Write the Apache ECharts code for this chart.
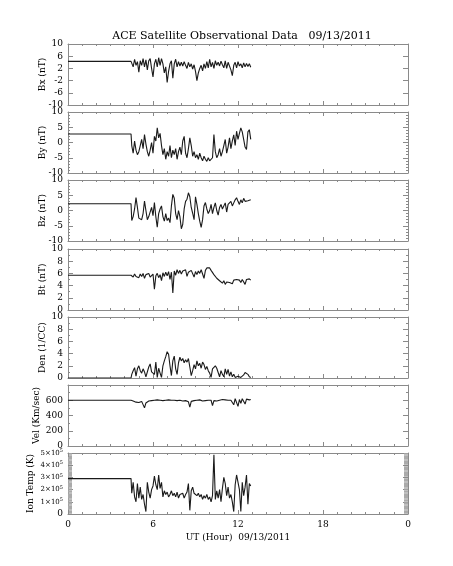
<!DOCTYPE html>
<html>
<head>
<meta charset="utf-8">
<script src="https://cdn.jsdelivr.net/npm/echarts@6/dist/echarts.min.js"></script>
<style>html,body{margin:0;padding:0;background:#fff;}#c{width:453px;height:566px;}</style>
</head>
<body>
<div id="c"></div>
<script>
// ---- data (hours 4.5 .. 12.9, every 0.1 h) ----
const startHour = 4.5;
const stepHour = 0.1;
const xTicks = [0, 6, 12, 18, 24];
const xTickLabels = ['0', '6', '12', '18', '0'];
const panelNames = ['Bx (nT)', 'By (nT)', 'Bz (nT)', 'Bt (nT)', 'Den (1/CC)', 'Vel (Km/sec)', 'Ion Temp (K)'];
const flatValues = [4.3, 2.8, 2.2, 5.7, 0, 600, 290000];

const bx = [4.5, 2.5, 5.0, 3.0, 4.2,
  0.8, 4.5, 3.0, 5.2, 2.5, 4.8, 1.5, 4.5, 5.2, 2.0,
  -0.8, 3.5, 5.0, 2.5, 5.5, 3.0, 5.2, 3.5, 0.5, 2.5,
  -2.6, 1.0, 3.5, 4.5, -1.2, 3.5, 5.0, 2.5, 4.2, 2.8,
  4.0, 2.8, 4.2, 3.0, 2.0, 4.0, 2.5, 3.5, 1.8, 3.2,
  1.0, -2.0, 0.5, 2.0, 3.0, 1.2, 3.5, 2.0, 4.2, 2.2,
  5.0, 2.5, 4.0, 2.0, 4.5, 3.0, 4.0, 2.8, 4.4, 3.2,
  2.2, 4.5, 2.0, 4.0, 3.5, 1.5, -0.4, 3.0, 4.0, 2.2,
  4.2, 2.8, 3.5, 2.2, 3.8, 2.5, 3.6, 2.6, 3.5, 2.4];
const by = [-1.0, -3.5, 0.5, -2.5, -4.0,
  -3.0, -1.0, 1.0, -2.0, 2.6, -0.5, -3.0, -4.5, -2.5, 0.0,
  -3.5, 2.0, 0.5, 4.8, 1.5, 3.0, -1.0, -4.0, -2.0, -5.5,
  -3.0, -4.5, -1.0, -5.0, -2.5, -4.0, -2.0, -5.5, -3.0, -1.5,
  -4.0, 0.5, 2.0, -3.5, -5.0, -2.0, 1.5, -1.0, -4.5, -3.0,
  -5.0, -4.0, -5.5, -3.5, -5.0, -6.0, -4.5, -5.5, -6.2, -5.0,
  -6.0, -6.5, -5.0, 2.6, -3.0, -5.0, -4.0, -2.0, -4.5, -3.0,
  -1.0, 1.0, -3.5, -1.5, 1.5, -2.0, 0.5, 2.5, -1.0, 3.7,
  1.0, 3.0, 4.8, 3.5, 1.0, -1.5, -2.3, 3.5, 4.2, 1.0];
const bz = [-3.3, -2.0, 0.5, 4.2, 1.0,
  -2.5, -2.0, -3.0, -1.0, 3.1, 0.0, -3.0, -2.0, -1.5, 1.0,
  -1.7, 2.6, -2.0, -5.5, -1.0, 0.5, 1.5, -2.0, -3.5, -1.0,
  -3.3, -2.5, -4.0, 1.5, 5.3, 4.0, -1.0, -3.0, 0.0, -2.0,
  -6.0, -4.5, 0.5, 3.0, 3.7, 5.8, 4.5, 1.0, -0.9, -3.0,
  4.5, 2.0, -1.0, -3.5, -5.5, -3.0, 1.5, 2.6, 0.5, -1.0,
  0.0, 2.0, -1.0, 1.0, 2.5, 0.0, -1.5, 1.0, 2.0, 0.5,
  1.0, 2.5, -0.5, 2.0, 1.5, 3.0, 1.5, 2.5, 3.5, 4.2,
  3.0, 2.0, 3.5, 2.5, 4.0, 3.0, 3.5, 3.2, 3.7, 3.5];
const bt = [5.8, 5.4, 5.9, 5.5, 5.8,
  5.3, 5.9, 5.5, 6.0, 5.2, 5.8, 5.6, 6.0, 5.4, 5.7,
  5.9, 3.4, 5.6, 6.0, 5.3, 5.8, 4.8, 6.1, 5.5, 6.2,
  5.6, 6.3, 5.0, 6.2, 2.8, 6.4, 5.7, 6.6, 6.0, 6.5,
  5.9, 6.4, 6.1, 6.6, 5.5, 6.2, 6.0, 6.5, 6.2, 5.4,
  6.3, 5.8, 6.4, 6.0, 6.6, 6.3, 5.2, 6.5, 6.9, 6.8,
  6.9, 6.5, 6.7, 5.8, 5.9, 5.2, 5.4, 4.8, 5.0, 4.4,
  4.8, 4.2, 4.6, 4.9, 4.5, 4.8, 4.3, 4.9, 4.6, 5.0,
  4.7, 4.9, 4.5, 5.0, 4.8, 4.2, 5.0, 4.8, 5.1, 4.9];
const den = [0.6, 1.2, 1.7, 0.3, 1.5,
  2.0, 1.2, 0.8, 1.5, 1.0, 0.2, 0.5, 1.8, 2.3, 1.0,
  1.2, 0.6, 2.6, 0.1, 1.6, 0.8, 0.1, 2.0, 2.8, 3.5,
  4.3, 3.9, 2.0, 0.4, 2.8, 3.6, 1.5, 0.6, 2.5, 3.4,
  2.8, 3.2, 2.5, 3.0, 2.6, 3.2, 1.8, 0.4, 1.2, 2.2,
  1.5, 2.8, 2.0, 2.4, 1.6, 2.6, 2.2, 1.4, 1.9, 1.2,
  0.8, 0.1, 1.5, 1.8, 2.0, 1.6, 0.9, 0.2, 1.2, 0.6,
  0.2, 1.5, 0.6, 1.4, 0.3, 1.0, 0.2, 0.6, 0.1, 0.2,
  0.3, 0.2, 0.1, 0.2, 0.5, 0.9, 1.0, 0.6, 0.2, 0.1];
const vel = [585, 590, 580, 575, 585,
  570, 590, 585, 575, 500, 565, 580, 590, 585, 595,
  590, 600, 595, 605, 590, 600, 610, 595, 605, 600,
  615, 605, 595, 600, 590, 600, 585, 595, 590, 600,
  580, 590, 585, 595, 590, 580, 510, 585, 590, 595,
  590, 600, 595, 605, 600, 590, 600, 595, 605, 600,
  595, 600, 530, 595, 600, 590, 605, 600, 595, 610,
  600, 605, 595, 600, 610, 600, 595, 540, 620, 630,
  520, 610, 560, 620, 600, 550, 615, 590, 605, 610];
const tempE5 = [1.7, 2.6, 1.4, 1.0, 2.5,
  1.3, 2.2, 1.2, 1.6, 0.8, 0.2, 2.6, 1.8, 1.3, 2.0,
  2.3, 3.1, 2.4, 2.0, 3.2, 2.1, 2.6, 1.4, 1.9, 1.6,
  1.8, 1.4, 1.6, 1.9, 1.5, 1.7, 1.4, 1.8, 1.3, 1.6,
  1.5, 1.7, 1.3, 1.6, 1.8, 2.5, 0.3, 1.9, 2.2, 1.7,
  1.8, 1.5, 1.7, 1.4, 1.6, 1.2, 1.5, 1.3, 1.6, 1.2,
  1.4, 1.0, 1.5, 4.85, 1.2, 1.9, 1.3, 2.0, 1.0, 2.1,
  3.0, 2.5, 1.5, 2.2, 1.3, 1.6, 1.0, 0.2, 2.4, 3.2,
  3.2, 2.0, 0.2, 2.6, 1.5, 2.2, 3.2, 0.8, 2.5, 2.3];
const temp = tempE5.map(v => v * 100000);

const seriesValues = [bx, by, bz, bt, den, vel, temp];
const yRanges = [
  {min: -10, max: 10, interval: 4, minor: 0},
  {min: -10, max: 10, interval: 5, minor: 5},
  {min: -10, max: 10, interval: 5, minor: 5},
  {min: 0, max: 10, interval: 2, minor: 2},
  {min: 0, max: 10, interval: 2, minor: 2},
  {min: 0, max: 800, interval: 200, minor: 2},
  {min: 0, max: 500000, interval: 100000, minor: 10}
];
const nameGaps = [21, 21, 21, 21, 21, 27, 33];

// ---- layout ----
const FONT = 'DejaVu Serif';
const L = 68, R = 45, H = 61;
const tops = [44, 112, 180, 249, 317, 385, 453];
const frame = '#8a8a8a';

const grids = [], xAxes = [], yAxes = [], series = [];
function tempLabel(v) {
  if (v === 0) return '0';
  return '{m|' + Math.round(v / 100000) + '\u00d710}{s|5}';
}
for (let p = 0; p < 7; p++) {
  grids.push({left: L, right: R, top: tops[p], height: H, containLabel: false});
  const last = p === 6;
  const xCommon = {
    type: 'value', min: 0, max: 24, interval: 6, gridIndex: p,
    axisLine: {show: true, onZero: false, lineStyle: {color: frame, width: 1}},
    axisTick: {show: true, inside: true, length: 4, lineStyle: {color: frame}},
    minorTick: {show: true, splitNumber: 6, length: 2, lineStyle: {color: frame}},
    splitLine: {show: false}
  };
  xAxes.push(Object.assign({}, xCommon, {
    position: 'bottom',
    axisLabel: {show: last, color: '#000', fontFamily: FONT, fontSize: 9, margin: 6,
      formatter: v => xTickLabels[xTicks.indexOf(v)]},
    name: last ? 'UT (Hour)  09/13/2011' : '', nameLocation: 'middle', nameGap: 19,
    nameMoveOverlap: false,
    nameTextStyle: {color: '#000', fontFamily: FONT, fontSize: 9}
  }));
  xAxes.push(Object.assign({}, xCommon, {position: 'top', axisLabel: {show: false}}));
  const yr = yRanges[p];
  const yCommon = {
    type: 'value', min: yr.min, max: yr.max, interval: yr.interval, gridIndex: p,
    axisLine: {show: true, onZero: false, lineStyle: {color: frame, width: 1}},
    axisTick: {show: true, inside: true, length: 5, lineStyle: {color: frame}},
    minorTick: {show: yr.minor > 0, splitNumber: yr.minor || 5, length: p === 6 ? 4 : 2,
      lineStyle: {color: p === 6 ? '#aaa' : frame, width: p === 6 ? 1.5 : 1}},
    splitLine: {show: false}
  };
  yAxes.push(Object.assign({}, yCommon, {
    position: 'left',
    name: panelNames[p], nameLocation: 'middle', nameGap: nameGaps[p], nameRotate: 90,
    nameMoveOverlap: false,
    nameTextStyle: {color: '#000', fontFamily: FONT, fontSize: 9},
    axisLabel: {show: true, color: '#000', fontFamily: FONT, fontSize: 9, margin: 5,
      formatter: p === 6 ? tempLabel : (p === 5 ? (v => v === 800 ? '' : String(v)) : (v => String(v))),
      rich: {m: {fontFamily: FONT, fontSize: 7, color: '#000'}, s: {fontFamily: FONT, fontSize: 5, color: '#000', verticalAlign: 'top', padding: [0, 0, 4, 0]}}}
  }));
  yAxes.push(Object.assign({}, yCommon, {position: 'right', axisLabel: {show: false}}));

  const data = [[0, flatValues[p]], [startHour - 0.05, flatValues[p]]];
  seriesValues[p].forEach((v, i) => data.push([startHour + stepHour * i, v]));
  series.push({
    type: 'line', xAxisIndex: 2 * p, yAxisIndex: 2 * p, data: data,
    showSymbol: false, symbol: 'none', animation: false, silent: true,
    lineStyle: {color: '#1a1a1a', width: 1.1}
  });
}

const chart = echarts.init(document.getElementById('c'), null, {renderer: 'canvas'});
chart.setOption({
  animation: false,
  backgroundColor: '#fff',
  title: {text: 'ACE Satellite Observational Data   09/13/2011', left: 237, top: 31, textAlign: 'center',
    textVerticalAlign: 'middle',
    textStyle: {color: '#000', fontFamily: FONT, fontSize: 11, fontWeight: 'normal'}},
  grid: grids, xAxis: xAxes, yAxis: yAxes, series: series
});
</script>
</body>
</html>
